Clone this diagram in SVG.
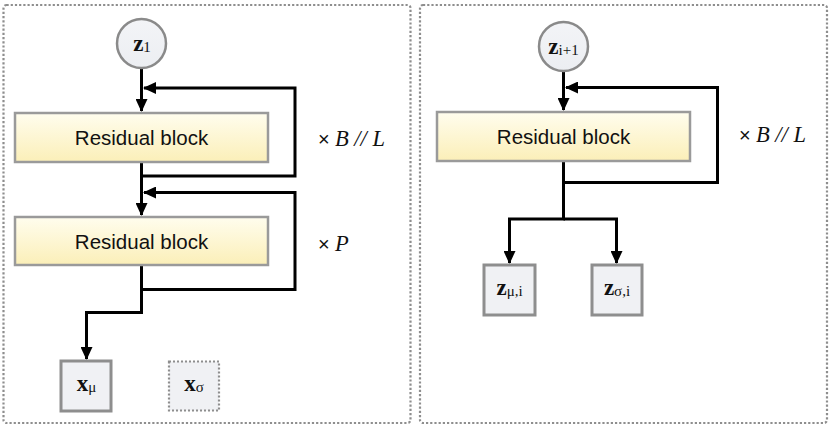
<svg xmlns="http://www.w3.org/2000/svg" width="831" height="429" viewBox="0 0 831 429">
<defs>
<linearGradient id="gBlock" x1="0" y1="0" x2="0" y2="1">
<stop offset="0" stop-color="#fffdee"/>
<stop offset="1" stop-color="#fbefb8"/>
</linearGradient>
<linearGradient id="gNode" x1="0" y1="0" x2="0" y2="1">
<stop offset="0" stop-color="#f3f4f7"/>
<stop offset="1" stop-color="#eceef2"/>
</linearGradient>
<marker id="ah" viewBox="0 0 13 12" refX="12" refY="6" markerWidth="13" markerHeight="12" markerUnits="userSpaceOnUse" orient="auto">
<path d="M0,0 L13,6 L0,12 z" fill="#000"/>
</marker>
<style>
.panel{fill:none;stroke:#8e8e8e;stroke-width:2.2;stroke-dasharray:2.2 2}
.block{fill:url(#gBlock);stroke:#9a9a9a;stroke-width:2.5}
.circ{fill:url(#gNode);stroke:#8a8a8a;stroke-width:2.5}
.box{fill:#f0f1f4;stroke:#8e8e8e;stroke-width:3}
.dbox{fill:#f0f1f4;stroke:#8e8e8e;stroke-width:2.2;stroke-dasharray:2 2}
.conn path{fill:none;stroke:#000;stroke-width:3}
.lbl{font-family:"Liberation Sans",Arial,sans-serif;font-size:20.5px;fill:#111;text-anchor:middle}
.math{font-family:"Liberation Serif","Times New Roman",serif;fill:#111}
.var{font-weight:bold;font-size:23px}
.sub{font-size:15px}
.times{font-family:"Liberation Sans",Arial,sans-serif;font-size:20px;fill:#111}
.it{font-family:"Liberation Serif","Times New Roman",serif;font-style:italic;font-size:22.5px;fill:#111}
</style>
</defs>
<rect class="panel" x="3.5" y="5" width="407" height="418" rx="3"/>
<rect class="panel" x="420" y="5" width="407" height="418" rx="3"/>

<g id="conn" class="conn">
<path d="M141.5,69 V111" marker-end="url(#ah)"/>
<path d="M141.5,162 V215" marker-end="url(#ah)"/>
<path d="M141.5,176 H295 V88 H144" marker-end="url(#ah)"/>
<path d="M141.5,289.5 H295 V192.5 H144" marker-end="url(#ah)"/>
<path d="M141.5,265 V312.5 H86.5 V359" marker-end="url(#ah)"/>
<path d="M563.5,71.5 V110" marker-end="url(#ah)"/>
<path d="M563.5,182.5 H717.5 V87.5 H566" marker-end="url(#ah)"/>
<path d="M563.5,161 V219 H509.5 V263" marker-end="url(#ah)"/>
<path d="M563.5,219 H616.5 V263" marker-end="url(#ah)"/>
</g>

<g id="z1">
<circle class="circ" cx="141.5" cy="43.5" r="24.5"/>
<text class="math" x="142" y="51" text-anchor="middle"><tspan class="var">z</tspan><tspan class="sub" dy="1">1</tspan></text>
</g>
<g id="block1">
<rect class="block" x="15" y="113" width="253" height="49"/>
<text class="lbl" x="141.5" y="145">Residual block</text>
</g>
<g id="block2">
<rect class="block" x="15" y="217" width="253" height="48"/>
<text class="lbl" x="141.5" y="248.5">Residual block</text>
</g>
<g id="xmu">
<rect class="box" x="61" y="361" width="50" height="50"/>
<text class="math" x="86.5" y="391" text-anchor="middle"><tspan class="var">x</tspan><tspan class="sub" dy="1">μ</tspan></text>
</g>
<g id="xsigma">
<rect class="dbox" x="169" y="361.5" width="50" height="49"/>
<text class="math" x="194" y="391" text-anchor="middle"><tspan class="var">x</tspan><tspan class="sub" dy="1">σ</tspan></text>
</g>
<g id="label-BL-left">
<text class="times" x="318" y="146">×</text>
<text class="it" x="335" y="146">B // L</text>
</g>
<g id="label-P">
<text class="times" x="318" y="251">×</text>
<text class="it" x="335" y="251">P</text>
</g>

<g id="zi1">
<circle class="circ" cx="563.5" cy="46.5" r="24.5"/>
<text class="math" x="563.5" y="54" text-anchor="middle"><tspan class="var">z</tspan><tspan class="sub" dy="1">i+1</tspan></text>
</g>
<g id="block3">
<rect class="block" x="437" y="112" width="253" height="49"/>
<text class="lbl" x="563.5" y="144">Residual block</text>
</g>
<g id="zmu">
<rect class="box" x="484" y="265" width="51" height="50"/>
<text class="math" x="509.5" y="295" text-anchor="middle"><tspan class="var">z</tspan><tspan class="sub" dy="1">μ,i</tspan></text>
</g>
<g id="zsigma">
<rect class="box" x="592" y="265" width="50" height="50"/>
<text class="math" x="617" y="295" text-anchor="middle"><tspan class="var">z</tspan><tspan class="sub" dy="1">σ,i</tspan></text>
</g>
<g id="label-BL-right">
<text class="times" x="739" y="142">×</text>
<text class="it" x="756" y="142">B // L</text>
</g>
</svg>
